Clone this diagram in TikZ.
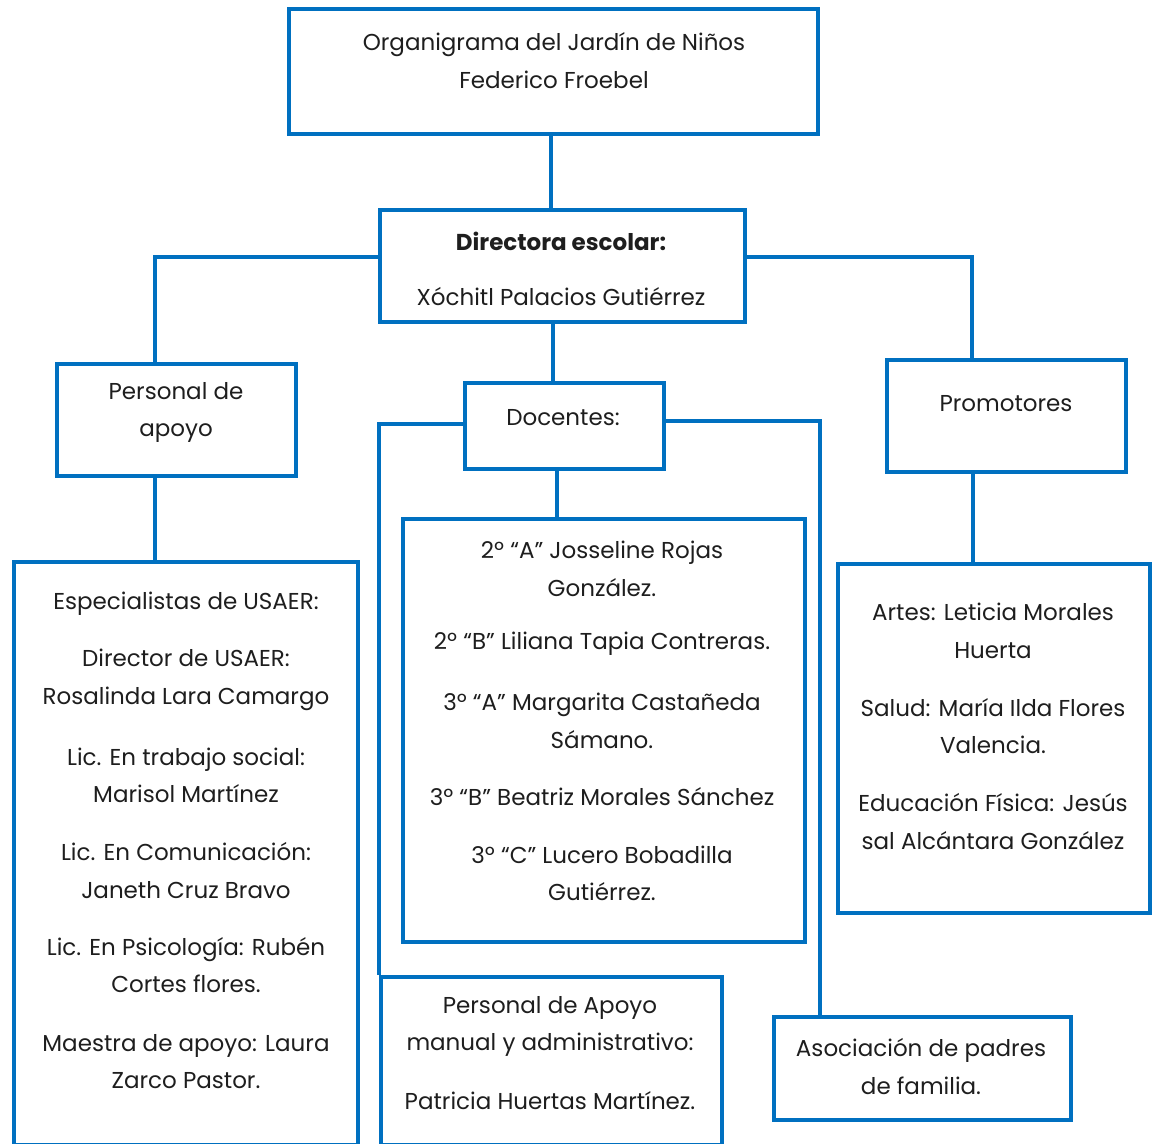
\documentclass[tikz,border=0pt]{standalone}
\usepackage{fontspec}
\setmainfont{Poppins}
\definecolor{obBlue}{RGB}{0,112,192}
\definecolor{obText}{RGB}{30,30,30}
\tikzset{
  box/.style={draw=obBlue, line width=4pt, inner sep=0pt, rectangle},
  conn/.style={draw=obBlue, line width=4pt},
  txt/.style={font=\fontsize{23}{37.5}\selectfont, align=center, inner sep=0pt, text=obText}
}
\begin{document}
\begin{tikzpicture}[x=1pt,y=-1pt]
\useasboundingbox (0,0) rectangle (1161,1143);
\fill[white] (0,0) rectangle (1161,1143);
% boxes
\node[box, minimum width=529pt, minimum height=125pt] (title) at (553.5,71.5) {};
\node[box, minimum width=365pt, minimum height=112pt] (dir) at (562.5,266) {};
\node[box, minimum width=239pt, minimum height=112pt] (pers) at (176.5,420) {};
\node[box, minimum width=199pt, minimum height=86pt] (doc) at (564.5,426) {};
\node[box, minimum width=239pt, minimum height=112pt] (prom) at (1006.5,416) {};
\node[box, minimum width=344pt, minimum height=583pt] (usaer) at (186,853.5) {};
\node[box, minimum width=402pt, minimum height=423pt] (teach) at (604,730.5) {};
\node[box, minimum width=312pt, minimum height=349pt] (promlist) at (994,738.5) {};
\node[box, minimum width=341pt, minimum height=168pt] (manual) at (551.5,1061) {};
\node[box, minimum width=297pt, minimum height=103pt] (asoc) at (922.5,1068.5) {};
% connectors
\draw[conn] ([xshift=-2.5pt]title.south) -- ([xshift=-2.5pt]title.south |- dir.north);
\draw[conn] ([yshift=9pt]dir.west) -| ([xshift=-21.5pt]pers.north);
\draw[conn] ([yshift=9pt]dir.east) -| ([xshift=-34.5pt]prom.north);
\draw[conn] ([xshift=-9.5pt]dir.south) -- ([xshift=-9.5pt]dir.south |- doc.north);
\draw[conn] ([yshift=2pt]doc.west) -| (manual.north west);
\draw[conn] ([yshift=5pt]doc.east) -| ([xshift=-102.5pt]asoc.north);
\draw[conn] ([xshift=-7.5pt]doc.south) -- ([xshift=-7.5pt]doc.south |- teach.north);
\draw[conn] ([xshift=-21.5pt]pers.south) -- ([xshift=-21.5pt]pers.south |- usaer.north);
\draw[conn] ([xshift=-33.5pt]prom.south) -- ([xshift=-33.5pt]prom.south |- promlist.north);
% texts
\node[txt] (t1) at (554,60.5) {Organigrama del Jardín de Niños\\Federico Froebel};
\node[txt, font=\fontsize{23}{37.5}\selectfont\bfseries] (d1) at (561,241) {Directora escolar:};
\node[txt] (d2) at (561,297) {Xóchitl Palacios Gutiérrez};
\node[txt] (p1) at (176,412.5) {Personal de\\apoyo};
\node[txt] (doct) at (563,418) {Docentes:};
\node[txt] (promt) at (1006,404) {Promotores};
\node[txt] (u1) at (186,604) {Especialistas de USAER:};
\node[txt] (u2) at (186,680) {Director de USAER:\\Rosalinda Lara Camargo};
\node[txt] (u3) at (186,775.5) {Lic. En trabajo social:\\Marisol Martínez};
\node[txt] (u4) at (186,870.5) {Lic. En Comunicación:\\Janeth Cruz Bravo};
\node[txt] (u5) at (186,965) {Lic. En Psicología: Rubén\\Cortes flores.};
\node[txt] (u6) at (186,1061.5) {Maestra de apoyo: Laura\\Zarco Pastor.};
\node[txt] (e1) at (602,569) {2º “A” Josseline Rojas\\González.};
\node[txt] (e2) at (602,644) {2º “B” Liliana Tapia Contreras.};
\node[txt] (e3) at (602,721) {3º “A” Margarita Castañeda\\Sámano.};
\node[txt] (e4) at (602,797) {3º “B” Beatriz Morales Sánchez};
\node[txt] (e5) at (602,873.5) {3º “C” Lucero Bobadilla\\Gutiérrez.};
\node[txt] (r1) at (993,631) {Artes: Leticia Morales\\Huerta};
\node[txt] (r2) at (993,726) {Salud: María Ilda Flores\\Valencia.};
\node[txt] (r3) at (993,821.5) {Educación Física: Jesús\\sal Alcántara González};
\node[txt] (m1) at (550,1026.5) {Personal de Apoyo\\manual y administrativo:};
\node[txt] (m2) at (550,1101) {Patricia Huertas Martínez.};
\node[txt] (a1) at (921,1066.5) {Asociación de padres\\de familia.};
\end{tikzpicture}
\end{document}
